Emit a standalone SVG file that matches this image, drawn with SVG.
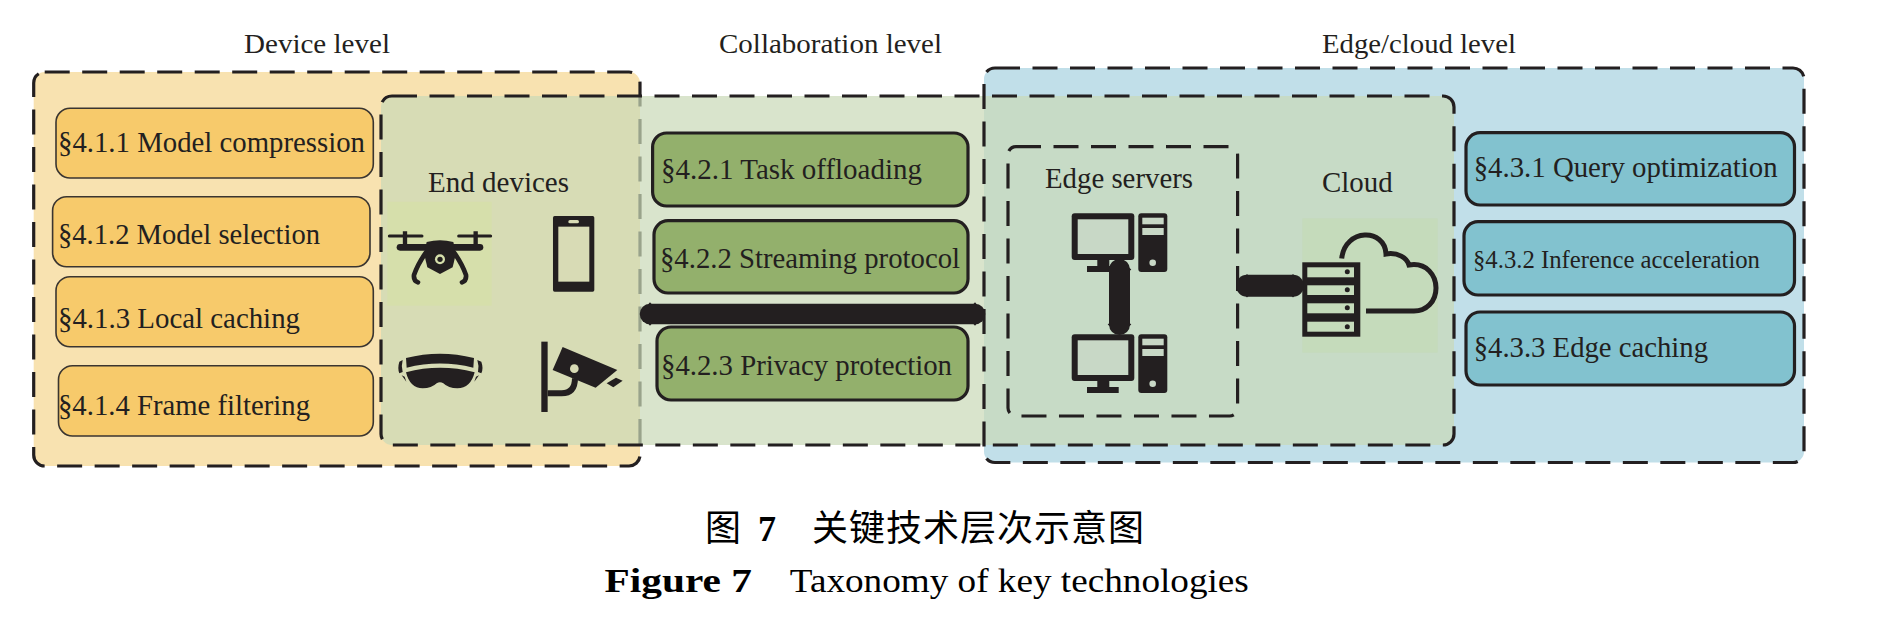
<svg xmlns="http://www.w3.org/2000/svg" width="1893" height="628" viewBox="0 0 1893 628">
<style>
text{font-family:"Liberation Serif","Noto Sans CJK SC",serif;fill:#231f20}
.h{font-size:28px}
.l{font-size:30px}
.dash{stroke:#231f20;stroke-width:3.2;stroke-dasharray:25 12.5;fill:none}
.o{fill:#f7ca6b;stroke:#3a3530;stroke-width:1.6}
.g{fill:#93b06c;stroke:#231f20;stroke-width:3.2}
.t{fill:#82c2cf;stroke:#231f20;stroke-width:3.2}
.k{fill:#231f20}
.ln{fill:none;stroke:#231f20}
.cn{stroke:#231f20;stroke-linecap:round;fill:none}
.cap{fill:#000}
</style>
<defs>
<marker id="barb" markerUnits="userSpaceOnUse" markerWidth="16" markerHeight="30" refX="8" refY="15" orient="auto" viewBox="0 0 16 30"><path d="M8,3.2L10,5.5H6ZM8,26.8L10,24.5H6Z" fill="#231f20"/></marker>
<g id="monitor">
<rect x="1071.7" y="213.3" width="62.6" height="46.7" rx="3" class="k"/>
<rect x="1077.7" y="219.3" width="50.6" height="34.7" fill="#c8d8c6"/>
<rect x="1097.3" y="260" width="12" height="6" class="k"/>
<rect x="1087" y="266" width="31.7" height="6" class="k"/>
<rect x="1138.3" y="213.3" width="29" height="58.7" rx="3" class="k"/>
<rect x="1142.3" y="217.7" width="21.4" height="6.6" fill="#c8d8c6"/>
<rect x="1142.3" y="228" width="21.4" height="7" fill="#c8d8c6"/>
<circle cx="1152.7" cy="262.7" r="3.3" fill="#c8d8c6"/>
</g>
</defs>

<g id="zones">
<rect id="device-zone" x="33.7" y="72" width="606.3" height="394" rx="11" fill="#f8e2b0"/>
<rect x="33.7" y="72" width="606.3" height="394" rx="11" class="dash"/>
<rect id="edge-zone" x="984" y="68" width="820" height="394.5" rx="11" fill="#c1dfe9"/>
<rect id="collab-zone" x="381" y="96" width="1073" height="349" rx="11" fill="#c9d9b7" fill-opacity=".71"/>
<rect x="984" y="68" width="820" height="394.5" rx="11" class="dash"/>
<rect x="381" y="96" width="1073" height="349" rx="11" class="dash"/>
<rect id="edge-servers-zone" x="1008" y="146.7" width="229.6" height="269.3" rx="8" class="dash"/>
</g>

<g id="level-labels">
<text id="device-level" class="h" x="244" y="53" textLength="146" lengthAdjust="spacingAndGlyphs">Device level</text>
<text id="collaboration-level" class="h" x="719" y="53" textLength="223" lengthAdjust="spacingAndGlyphs">Collaboration level</text>
<text id="edge-cloud-level" class="h" x="1322" y="53" textLength="194" lengthAdjust="spacingAndGlyphs">Edge/cloud level</text>
</g>

<g id="n411"><rect class="o" x="56" y="108.3" width="317.3" height="69.7" rx="14"/><text class="l" x="58" y="152" textLength="307" lengthAdjust="spacingAndGlyphs">§4.1.1 Model compression</text></g>
<g id="n412"><rect class="o" x="52.6" y="196.7" width="317.4" height="70" rx="14"/><text class="l" x="58" y="244" textLength="262" lengthAdjust="spacingAndGlyphs">§4.1.2 Model selection</text></g>
<g id="n413"><rect class="o" x="56" y="276.7" width="317.3" height="70" rx="14"/><text class="l" x="58" y="328" textLength="242" lengthAdjust="spacingAndGlyphs">§4.1.3 Local caching</text></g>
<g id="n414"><rect class="o" x="58.5" y="365.7" width="314.8" height="70.3" rx="14"/><text class="l" x="58" y="415" textLength="252" lengthAdjust="spacingAndGlyphs">§4.1.4 Frame filtering</text></g>

<g id="n421"><rect class="g" x="652.6" y="133" width="315.4" height="73" rx="14"/><text class="l" x="661" y="179" textLength="261" lengthAdjust="spacingAndGlyphs">§4.2.1 Task offloading</text></g>
<g id="n422"><rect class="g" x="654" y="220.7" width="314" height="72.3" rx="14"/><text class="l" x="660" y="268" textLength="300" lengthAdjust="spacingAndGlyphs">§4.2.2 Streaming protocol</text></g>
<g id="n423"><rect class="g" x="657" y="327" width="311" height="73" rx="14"/><text class="l" x="661" y="375" textLength="291" lengthAdjust="spacingAndGlyphs">§4.2.3 Privacy protection</text></g>

<g id="n431"><rect class="t" x="1466" y="132.7" width="328.5" height="72.3" rx="14"/><text class="l" x="1473.7" y="177" textLength="304" lengthAdjust="spacingAndGlyphs">§4.3.1 Query optimization</text></g>
<g id="n432"><rect class="t" x="1464" y="221.7" width="330.5" height="73.3" rx="14"/><text class="l" style="font-size:25px" x="1473" y="268" textLength="287" lengthAdjust="spacingAndGlyphs">§4.3.2 Inference acceleration</text></g>
<g id="n433"><rect class="t" x="1466" y="312" width="328.5" height="73" rx="14"/><text class="l" x="1473.7" y="357" textLength="234.3" lengthAdjust="spacingAndGlyphs">§4.3.3 Edge caching</text></g>

<g id="end-devices">
<text class="l" x="428" y="192" textLength="141" lengthAdjust="spacingAndGlyphs">End devices</text>
<rect x="387.3" y="201.7" width="104.4" height="104" fill="#d6dfab"/>
<g transform="translate(380 200) scale(.3333)">
<g id="drone">
<path class="ln" stroke-width="9" stroke-linecap="round" d="M28,108H126M236,108H332"/>
<path class="ln" stroke-width="13" d="M75,94V135M287,94V135"/>
<path class="ln" stroke-width="20" stroke-linecap="round" d="M60,142H300"/>
<path class="k" d="M140,126Q180,116 220,126L228,160L218,202L180,222L142,202L132,160Z"/>
<circle cx="180" cy="178" r="15" fill="#d6dfab"/><circle cx="180" cy="178" r="8" class="k"/>
<path class="ln" stroke-width="14" stroke-linecap="round" d="M136,160Q112,195 102,225Q100,242 114,247M224,160Q248,195 258,225Q260,242 246,247"/>
</g>
<g id="phone">
<rect x="519" y="48" width="124" height="227" rx="5" class="k"/>
<rect x="535" y="80" width="93" height="165" fill="#d8dbb5"/>
<rect x="565" y="60" width="32" height="10" rx="5" fill="#d8dbb5"/>
</g>
<g id="goggles">
<path class="k" d="M78,474Q180,448 282,474L280,503Q180,478 80,503Z"/>
<path class="k" d="M78,517Q180,490 284,517Q272,565 232,565Q205,565 190,550Q180,543 170,550Q155,565 128,565Q90,565 78,517Z"/>
<path class="k" d="M68,480L58,485Q52,505 58,520L68,516Q63,498 68,480ZM292,480L304,485Q311,505 304,520L294,516Q298,498 292,480ZM65,526L74,530L79,545ZM297,526L288,530L283,545Z"/>
</g>
<g id="camera">
<rect x="484" y="425" width="19" height="211" class="k"/>
<path class="ln" stroke-width="18" d="M503,580H545Q585,580 585,535"/>
<path class="k" d="M548,441L712,510L647,563L518,510Z"/>
<circle cx="583" cy="506" r="13" fill="#d8dbb5"/>
<path class="k" d="M680,550L708,533L728,542L700,562Z"/>
</g>
</g>
</g>

<g id="edge-servers">
<text class="l" x="1045" y="188" textLength="148" lengthAdjust="spacingAndGlyphs">Edge servers</text>
<use href="#monitor"/>
<use href="#monitor" y="121"/>
</g>

<g id="cloud">
<text class="l" x="1322" y="192" textLength="70.6" lengthAdjust="spacingAndGlyphs">Cloud</text>
<rect x="1302.3" y="218.3" width="135.4" height="134.4" fill="#c5dbbb"/>
<path class="ln" stroke-width="5" d="M1341.7,258.5C1345,228 1385,228 1386,254C1398,252 1407,258 1409,265C1427,262 1436,276 1436,288C1436,302 1426,311 1414,311H1366"/>
<rect x="1302.3" y="262.3" width="58" height="74.4" class="k"/>
<g fill="#c5dbbb">
<rect x="1307.3" y="267.3" width="46.7" height="10"/><rect x="1307.3" y="285.3" width="46.7" height="9.7"/><rect x="1307.3" y="303.3" width="46.7" height="10"/><rect x="1307.3" y="321.7" width="46.7" height="10"/>
</g>
<g class="k"><circle cx="1347.3" cy="271.7" r="2.5"/><circle cx="1347.3" cy="289.7" r="2.5"/><circle cx="1347.3" cy="307.7" r="2.5"/><circle cx="1347.3" cy="326.7" r="2.5"/></g>
</g>

<g id="connectors">
<line class="cn" x1="650" y1="314" x2="975" y2="314" stroke-width="20.5" marker-start="url(#barb)" marker-end="url(#barb)"/>
<line class="cn" x1="1119.5" y1="269.5" x2="1119.5" y2="324.5" stroke-width="21" marker-start="url(#barb)" marker-end="url(#barb)"/>
<line class="cn" x1="1247" y1="285.7" x2="1293" y2="285.7" stroke-width="22" marker-start="url(#barb)" marker-end="url(#barb)"/>
</g>

<g id="caption">
<text class="cap" x="705" y="541" style="font-size:36px">图</text>
<text class="cap" x="758" y="541" style="font-size:36px;font-weight:bold">7</text>
<text class="cap" x="812" y="541" style="font-size:36px" textLength="332" lengthAdjust="spacing">关键技术层次示意图</text>
<text class="cap" x="604.6" y="592" style="font-size:33px;font-weight:bold" textLength="147.4" lengthAdjust="spacingAndGlyphs">Figure 7</text>
<text class="cap" x="789.8" y="592" style="font-size:33px" textLength="459" lengthAdjust="spacingAndGlyphs">Taxonomy of key technologies</text>
</g>
</svg>
